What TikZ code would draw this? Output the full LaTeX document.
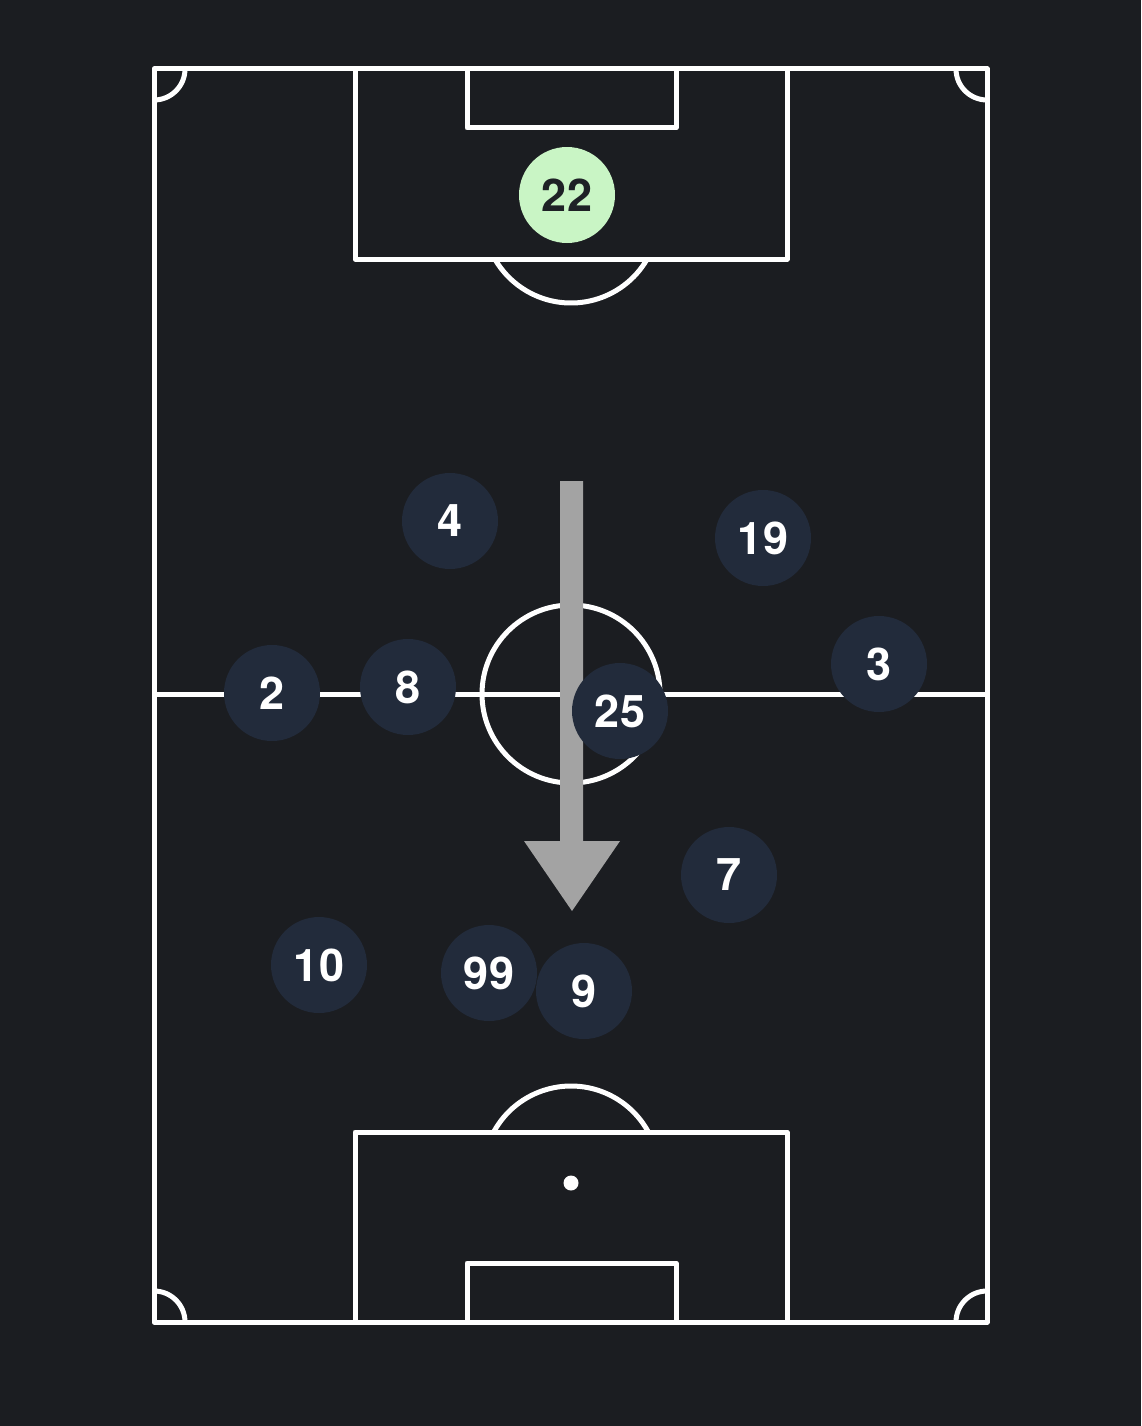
\documentclass[tikz,border=0pt]{standalone}
\usepackage{fontspec}
\setmainfont{TeX Gyre Heros}
\usetikzlibrary{calc}
\definecolor{bg}{HTML}{1B1D21}
\definecolor{navy}{HTML}{222B3B}
\definecolor{mint}{HTML}{C9F5C5}
\definecolor{ink}{HTML}{1E2126}
\definecolor{arrowgray}{HTML}{A3A3A3}
\begin{document}
\begin{tikzpicture}[x=1pt,y=-1pt,
  pitchline/.style={draw=white,line width=5pt,line join=round},
  player/.style={circle,fill=navy,minimum size=96pt,inner sep=0pt,text=white,font=\fontsize{45}{45}\selectfont\bfseries},
  keeper/.style={player,fill=mint,text=ink}]
\fill[bg] (0,0) rectangle (1141,1426);
\useasboundingbox (0,0) rectangle (1141,1426);
% pitch
\draw[pitchline] (154,69) rectangle (987,1322);
\draw[pitchline] (154,694) -- (987,694);
\draw[pitchline] (571,694) circle[radius=89];
\draw[pitchline] (355,69) rectangle (787,259);
\draw[pitchline] (467,69) rectangle (676,128);
\draw[pitchline] (355,1132) rectangle (787,1322);
\draw[pitchline] (467,1263) rectangle (676,1322);
\draw[pitchline] ($(571,215)+(30:88)$) arc[start angle=30,end angle=150,radius=88];
\draw[pitchline] ($(571,1174)+(208.5:88)$) arc[start angle=208.5,end angle=331.5,radius=88];
\fill[white] (571,1183) circle[radius=7.5];
% corners
\draw[pitchline] (185,69) arc[start angle=0,end angle=90,radius=31];
\draw[pitchline] (956,69) arc[start angle=180,end angle=90,radius=31];
\draw[pitchline] (185,1322) arc[start angle=0,end angle=-90,radius=31];
\draw[pitchline] (956,1322) arc[start angle=180,end angle=270,radius=31];
% arrow
\fill[arrowgray] (560,481) -- (583,481) -- (583,841) -- (620,841) -- (572,911) -- (524,841) -- (560,841) -- cycle;
% players
\node[keeper] (p22) at (567,195) {22};
\node[player] (p4) at (450,521) {4};
\node[player] (p19) at (763,538) {19};
\node[player] (p2) at (272,693) {2};
\node[player] (p8) at (408,687) {8};
\node[player] (p25) at (620,711) {25};
\node[player] (p3) at (879,664) {3};
\node[player] (p7) at (729,875) {7};
\node[player] (p10) at (319,965) {10};
\node[player] (p99) at (489,973) {99};
\node[player] (p9) at (584,991) {9};
\end{tikzpicture}
\end{document}
